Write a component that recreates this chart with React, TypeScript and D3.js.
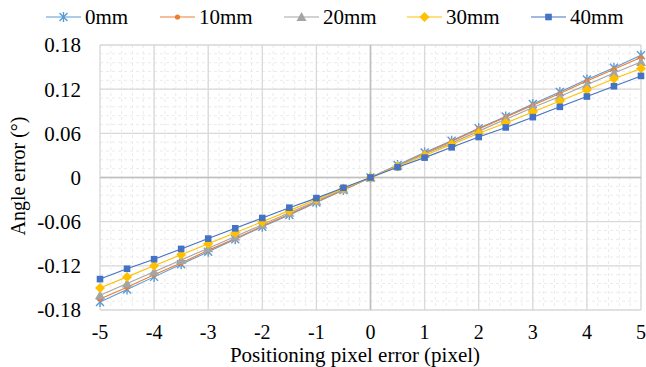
import React from "react";
import * as d3 from "d3";

const xValues = [-5, -4.5, -4, -3.5, -3, -2.5, -2, -1.5, -1, -0.5, 0, 0.5, 1, 1.5, 2, 2.5, 3, 3.5, 4, 4.5, 5];
const series0 = [-0.169, -0.152, -0.135, -0.118, -0.101, -0.084, -0.067, -0.051, -0.034, -0.017, 0, 0.017, 0.034, 0.050, 0.067, 0.083, 0.100, 0.116, 0.133, 0.149, 0.166];
const series10 = [-0.165, -0.149, -0.132, -0.116, -0.099, -0.083, -0.066, -0.050, -0.033, -0.017, 0, 0.016, 0.033, 0.049, 0.066, 0.082, 0.098, 0.114, 0.131, 0.147, 0.163];
const series20 = [-0.160, -0.144, -0.128, -0.112, -0.096, -0.080, -0.064, -0.048, -0.032, -0.016, 0, 0.016, 0.032, 0.047, 0.063, 0.079, 0.095, 0.110, 0.126, 0.142, 0.157];
const series30 = [-0.150, -0.135, -0.120, -0.105, -0.090, -0.075, -0.060, -0.045, -0.030, -0.015, 0, 0.015, 0.030, 0.045, 0.060, 0.074, 0.089, 0.104, 0.119, 0.134, 0.148];
const series40 = [-0.138, -0.124, -0.111, -0.097, -0.083, -0.069, -0.055, -0.041, -0.028, -0.014, 0, 0.014, 0.027, 0.041, 0.055, 0.068, 0.082, 0.096, 0.110, 0.124, 0.138];
const seriesNames = ["0mm", "10mm", "20mm", "30mm", "40mm"];
const seriesColors = ["#5B9BD5", "#ED7D31", "#A5A5A5", "#FFC000", "#4472C4"];
const seriesMarkers = ["star", "circle", "triangle", "diamond", "square"];
const xTicks = [-5, -4, -3, -2, -1, 0, 1, 2, 3, 4, 5];
const yTicks = [-0.18, -0.12, -0.06, 0, 0.06, 0.12, 0.18];
const yTickLabels = ["-0.18", "-0.12", "-0.06", "0", "0.06", "0.12", "0.18"];

const allSeries = [series0, series10, series20, series30, series40];

const W = 646, H = 367;
const left = 100, right = 641, top = 45, bottom = 310;
const FONT = "Liberation Serif";

function Marker({ type, x, y, color }: { type: string; x: number; y: number; color: string }) {
  if (type === "star") {
    const r = 4;
    return (
      <g stroke={color} strokeWidth={1.4} fill="none">
        <line x1={x - r} y1={y - r} x2={x + r} y2={y + r} />
        <line x1={x - r} y1={y + r} x2={x + r} y2={y - r} />
        <line x1={x} y1={y - r - 1} x2={x} y2={y + r + 1} />
      </g>
    );
  }
  if (type === "circle") return <circle cx={x} cy={y} r={2.6} fill={color} />;
  if (type === "triangle") {
    const s = 5;
    return <path d={`M${x},${y - s}L${x + s},${y + s * 0.8}L${x - s},${y + s * 0.8}Z`} fill={color} />;
  }
  if (type === "diamond") {
    const s = 5;
    return <path d={`M${x},${y - s}L${x + s},${y}L${x},${y + s}L${x - s},${y}Z`} fill={color} />;
  }
  return <rect x={x - 3.3} y={y - 3.3} width={6.6} height={6.6} fill={color} />;
}

export default function App() {
  const xs = d3.scaleLinear().domain([-5, 5]).range([left, right]);
  const ys = d3.scaleLinear().domain([-0.18, 0.18]).range([bottom, top]);
  const minorX = d3.range(-5, 5.0001, 0.2).map((v) => +v.toFixed(2));
  const minorY = d3.range(-0.18, 0.18001, 0.012).map((v) => +v.toFixed(3));
  const line = d3.line<number>().x((_, i) => xs(xValues[i])).y((d) => ys(d));

  const legendX = [46, 160, 284, 407, 531];

  return (
    <svg width={W} height={H} style={{ position: "absolute", left: 0, top: 0, background: "#fff" }}>
      <rect width={W} height={H} fill="#fff" />
      {minorX.map((v, i) => (
        <line key={"mx" + i} x1={xs(v)} x2={xs(v)} y1={top} y2={bottom} stroke="#EBEBEB" strokeWidth={1} strokeDasharray="3,3" />
      ))}
      {minorY.map((v, i) => (
        <line key={"my" + i} x1={left} x2={right} y1={ys(v)} y2={ys(v)} stroke="#EBEBEB" strokeWidth={1} strokeDasharray="3,3" />
      ))}
      {xTicks.map((v) => (
        <line key={"gx" + v} x1={xs(v)} x2={xs(v)} y1={top} y2={bottom} stroke="#D9D9D9" strokeWidth={1.3} />
      ))}
      {yTicks.map((v) => (
        <line key={"gy" + v} x1={left} x2={right} y1={ys(v)} y2={ys(v)} stroke="#D9D9D9" strokeWidth={1.3} />
      ))}
      <line x1={xs(0)} x2={xs(0)} y1={top} y2={bottom} stroke="#BFBFBF" strokeWidth={1.6} />
      <line x1={left} x2={right} y1={ys(0)} y2={ys(0)} stroke="#BFBFBF" strokeWidth={1.6} />

      {allSeries.map((s, si) => (
        <g key={"s" + si}>
          <path d={line(s) || ""} fill="none" stroke={seriesColors[si]} strokeWidth={1.1} />
          {s.map((v, i) => (
            <Marker key={i} type={seriesMarkers[si]} x={xs(xValues[i])} y={ys(v)} color={seriesColors[si]} />
          ))}
        </g>
      ))}

      {yTicks.map((v, i) => (
        <text key={"yl" + v} x={81} y={ys(v)} dy="0.35em" textAnchor="end" fontFamily={FONT} fontSize={21} fill="#000">
          {yTickLabels[i]}
        </text>
      ))}
      {xTicks.map((v) => (
        <text key={"xl" + v} x={xs(v)} y={338.5} textAnchor="middle" fontFamily={FONT} fontSize={20} fill="#000">
          {String(v)}
        </text>
      ))}

      <text x={355} y={362} textAnchor="middle" fontFamily={FONT} fontSize={21} fill="#000">
        Positioning pixel error (pixel)
      </text>
      <text transform={`translate(25,176) rotate(-90)`} textAnchor="middle" fontFamily={FONT} fontSize={20} fill="#000">
        Angle error (°)
      </text>

      {seriesNames.map((n, i) => (
        <g key={"lg" + n}>
          <line x1={legendX[i]} x2={legendX[i] + 35} y1={17} y2={17} stroke={seriesColors[i]} strokeWidth={1.1} />
          <Marker type={seriesMarkers[i]} x={legendX[i] + 17.5} y={17} color={seriesColors[i]} />
          <text x={legendX[i] + 39} y={17} dy="0.35em" fontFamily={FONT} fontSize={21} fill="#000">
            {n}
          </text>
        </g>
      ))}
    </svg>
  );
}
